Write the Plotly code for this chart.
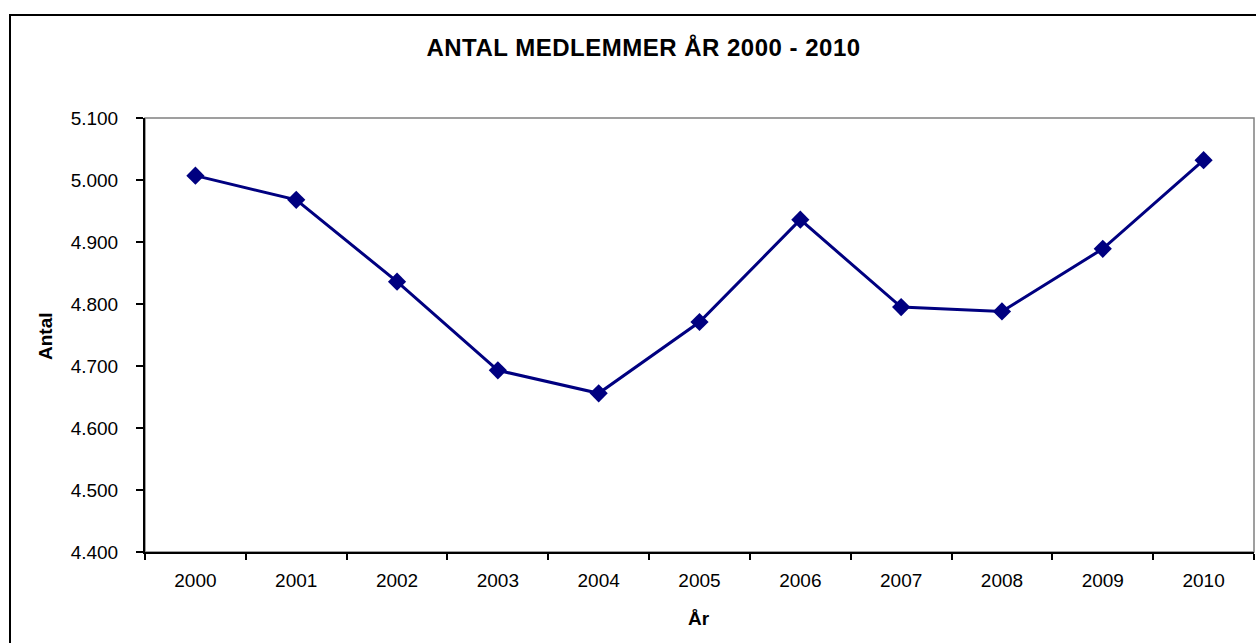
import plotly.graph_objects as go

years = ["2000", "2001", "2002", "2003", "2004", "2005", "2006", "2007", "2008", "2009", "2010"]
members = [5007, 4968, 4836, 4693, 4656, 4771, 4936, 4795, 4788, 4889, 5032]
y_ticks = [4400, 4500, 4600, 4700, 4800, 4900, 5000, 5100]

W, H = 1256, 643
L, R, T, B = 145, 2, 118, 91
pw, ph = W - L - R, H - T - B

def px(x):
    return (x - L) / pw

def py(y):
    return (H - B - y) / ph

FONT = "Liberation Sans, Arial, sans-serif"
NAVY = "#000080"

fig = go.Figure()
fig.add_trace(go.Scatter(
    x=years, y=members, mode="lines+markers",
    line=dict(color=NAVY, width=3),
    marker=dict(symbol="diamond", size=14, color=NAVY),
    hoverinfo="x+y", showlegend=False,
))

fig.update_layout(
    width=W, height=H,
    margin=dict(l=L, r=R, t=T, b=B, autoexpand=False),
    paper_bgcolor="white", plot_bgcolor="white",
    separators=",.",
    font=dict(family=FONT, size=19, color="black"),
    title=dict(
        text='<b><span style="letter-spacing:0.5px">ANTAL MEDLEMMER ÅR 2000 - 2010</span></b>',
        x=643.5 / W, xanchor="center", xref="container",
        y=1 - 48 / H, yanchor="middle", yref="container",
        font=dict(family=FONT, size=24, color="black"),
    ),
    xaxis=dict(
        type="category", range=[-0.5, 10.5], automargin=False,
        tickson="boundaries", ticks="outside", ticklen=6, tickwidth=1.5, tickcolor="black",
        showline=True, linecolor="black", linewidth=2, showgrid=False, zeroline=False,
        tickfont=dict(family=FONT, size=19, color="black"),
        ticklabelstandoff=10,
    ),
    yaxis=dict(
        range=[4400, 5100], tickvals=y_ticks, tickformat=",d", automargin=False,
        ticks="outside", ticklen=7, tickwidth=1.5, tickcolor="black",
        showline=True, linecolor="black", linewidth=2, showgrid=False, zeroline=False,
        tickfont=dict(family=FONT, size=19, color="black"),
        ticklabelstandoff=14,
    ),
    annotations=[
        dict(text="<b>Antal</b>", xref="paper", yref="paper", x=px(45), y=py(336),
             xanchor="center", yanchor="middle", textangle=-90, showarrow=False,
             font=dict(family=FONT, size=19, color="black")),
        dict(text="<b>År</b>", xref="paper", yref="paper", x=px(699), y=py(618),
             xanchor="center", yanchor="middle", showarrow=False,
             font=dict(family=FONT, size=19, color="black")),
    ],
    shapes=[
        # plot area border (gray)
        dict(type="rect", xref="paper", yref="paper", x0=0, x1=1, y0=0, y1=1,
             line=dict(color="#808080", width=1.5), layer="below"),
        # outer chart border
        dict(type="rect", xref="paper", yref="paper",
             x0=px(10), x1=px(W + 20), y0=py(H + 20), y1=py(15),
             line=dict(color="black", width=2), layer="below"),
    ],
)

fig.write_html(
    "out.html",
    config={"displayModeBar": False},
    post_script="document.body.style.margin='0';document.body.style.overflow='hidden';",
)
